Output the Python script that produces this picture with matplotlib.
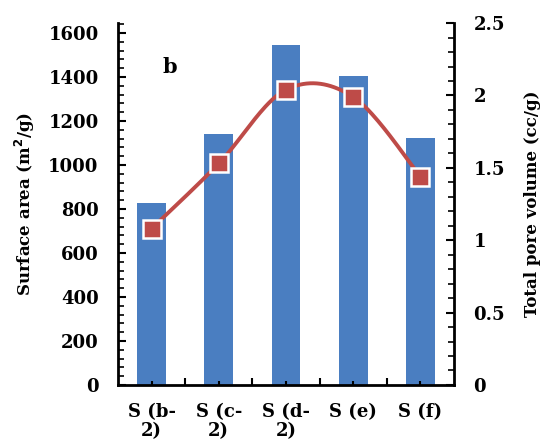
#!/usr/bin/env python3
import numpy as np
import matplotlib.pyplot as plt
from matplotlib.ticker import MultipleLocator, FixedLocator

# ================================
# DATA
# ================================

SAMPLES = ["S (b-\n2)", "S (c-\n2)", "S (d-\n2)", "S (e)", "S (f)"]
SURFACE_AREA = [829, 1143, 1545, 1405, 1123]      # m2/g
PORE_VOLUME = [1.08, 1.53, 2.04, 1.99, 1.44]      # cc/g

BAR_COLOR = "#4A7EC1"
LINE_COLOR = "#BE4B48"


def smooth_line(x, y, n=40):
    # bezier smoothing through every point (same idea as a spreadsheet "smoothed line")
    x = np.asarray(x, float)
    y = np.asarray(y, float)
    px = np.concatenate([[x[0]], x, [x[-1]]])
    py = np.concatenate([[y[0]], y, [y[-1]]])
    xs, ys = [], []
    t = np.linspace(0, 1, n)
    for i in range(1, len(px) - 2):
        p0 = np.array([px[i], py[i]])
        p3 = np.array([px[i + 1], py[i + 1]])
        c1 = p0 + (np.array([px[i + 1], py[i + 1]]) - np.array([px[i - 1], py[i - 1]])) / 6
        c2 = p3 - (np.array([px[i + 2], py[i + 2]]) - np.array([px[i], py[i]])) / 6
        b = ((1 - t) ** 3)[:, None] * p0 + (3 * (1 - t) ** 2 * t)[:, None] * c1 \
            + (3 * (1 - t) * t ** 2)[:, None] * c2 + (t ** 3)[:, None] * p3
        xs.extend(b[:, 0])
        ys.extend(b[:, 1])
    return np.array(xs), np.array(ys)


plt.rcParams["font.family"] = "DejaVu Serif"
plt.rcParams["font.weight"] = "bold"

fig = plt.figure(figsize=(5.45, 4.44), dpi=100)
ax = fig.add_axes([0.2165, 0.133, 0.6165, 0.815])
ax2 = ax.twinx()

xpos = np.arange(len(SAMPLES))
ax.bar(xpos, SURFACE_AREA, width=0.43, color=BAR_COLOR, zorder=1)

sx, sy = smooth_line(xpos, PORE_VOLUME)
ax2.plot(sx, sy, color=LINE_COLOR, lw=2.8, zorder=3, solid_capstyle="round")
ax2.plot(xpos, PORE_VOLUME, ls="none", marker="s", ms=12.5,
         mfc=LINE_COLOR, mec="white", mew=1.8, zorder=4)

ax.set_xlim(-0.5, len(SAMPLES) - 0.5)
ax.set_ylim(0, 1645)
ax2.set_ylim(0, 2.5)

ax.yaxis.set_major_locator(MultipleLocator(200))
ax.yaxis.set_minor_locator(MultipleLocator(40))
ax2.yaxis.set_major_locator(MultipleLocator(0.5))
ax2.yaxis.set_minor_locator(MultipleLocator(0.1))
ax2.yaxis.set_major_formatter(plt.FuncFormatter(lambda v, p: f"{v:g}"))

ax.xaxis.set_major_locator(FixedLocator(xpos))
ax.set_xticklabels(SAMPLES, fontsize=13, fontweight="bold", linespacing=1.08)
ax.xaxis.set_minor_locator(FixedLocator(np.arange(len(SAMPLES) - 1) + 0.5))
ax.tick_params(axis="x", which="major", direction="in", length=3, width=1.5, pad=13)
ax.tick_params(axis="x", which="minor", direction="in", length=5, width=1.5)

ax.tick_params(axis="y", which="major", direction="in", length=6, width=1.5,
               labelsize=13, pad=14)
ax.tick_params(axis="y", which="minor", direction="in", length=4, width=1.2)
ax2.tick_params(axis="y", which="major", direction="in", length=6, width=1.5,
                labelsize=13, pad=14)
ax2.tick_params(axis="y", which="minor", direction="in", length=4, width=1.2)

for a in (ax, ax2):
    a.spines["top"].set_visible(False)
    for s in ("left", "right", "bottom"):
        a.spines[s].set_linewidth(2)
ax.spines["right"].set_visible(False)
ax2.spines["left"].set_visible(False)
ax2.spines["bottom"].set_visible(False)

ax.set_ylabel("Surface area (m$^\\mathbf{2}$/g)", fontsize=12, fontweight="bold", labelpad=8)
ax2.set_ylabel("Total pore volume (cc/g)", fontsize=12, fontweight="bold", labelpad=14)

ax.text(0.155, 0.88, "b", transform=ax.transAxes, fontsize=15, fontweight="bold",
        ha="center", va="center")

fig.savefig("out.png", dpi=100)
